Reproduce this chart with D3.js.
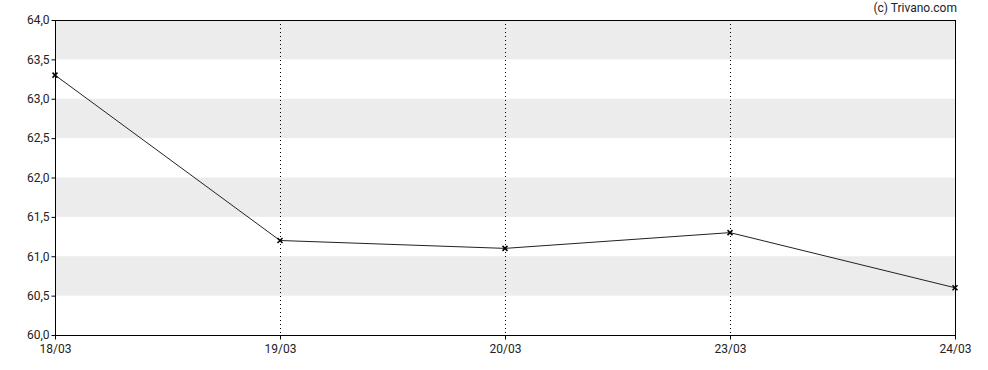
<!DOCTYPE html>
<html>
<head>
<script src="https://d3js.org/d3.v7.min.js"></script>
<style>
  body { margin: 0; background: #fff; }
  svg text { font-family: Roboto, sans-serif; font-size: 12px; fill: #222; }
</style>
</head>
<body>
<svg id="chart" width="988" height="370"></svg>
<script>
// Data
var dates = ["18/03", "19/03", "20/03", "23/03", "24/03"];
var prices = [63.3, 61.2, 61.1, 61.3, 60.6];
var yTicks = [60.0, 60.5, 61.0, 61.5, 62.0, 62.5, 63.0, 63.5, 64.0];

var margin = { top: 20, right: 33, bottom: 35, left: 55 };
var width = 988, height = 370;
var svg = d3.select("#chart");

var x = d3.scalePoint().domain(dates).range([margin.left, width - margin.right]);
var y = d3.scaleLinear().domain([60, 64]).range([height - margin.bottom, margin.top]);

var fmt = function (d) { return d3.format(".1f")(d).replace(".", ","); };

// grey bands
var bands = [];
for (var i = 0; i < yTicks.length - 1; i++) {
  if (i % 2 === 1) bands.push([yTicks[i], yTicks[i + 1]]);
}
svg.append("g").selectAll("rect")
  .data(bands)
  .enter().append("rect")
  .attr("x", margin.left)
  .attr("width", width - margin.right - margin.left)
  .attr("y", function (d) { return y(d[1]); })
  .attr("height", function (d) { return y(d[0]) - y(d[1]); })
  .attr("fill", "#ececec");

// dotted vertical grid lines
svg.append("g").selectAll("line")
  .data(dates.slice(1, -1))
  .enter().append("line")
  .attr("x1", function (d) { return x(d) + 0.5; })
  .attr("x2", function (d) { return x(d) + 0.5; })
  .attr("y1", margin.top)
  .attr("y2", height - margin.bottom)
  .attr("stroke", "#000")
  .attr("stroke-dasharray", "1,3");

// frame
svg.append("rect")
  .attr("x", margin.left + 0.5)
  .attr("y", margin.top + 0.5)
  .attr("width", width - margin.right - margin.left)
  .attr("height", height - margin.bottom - margin.top)
  .attr("fill", "none")
  .attr("stroke", "#000");

// axes
var yAxis = svg.append("g")
  .attr("transform", "translate(" + (margin.left + 0.5) + ",0)")
  .call(d3.axisLeft(y).tickValues(yTicks).tickFormat(fmt).tickSize(4).tickPadding(2));
var xAxis = svg.append("g")
  .attr("transform", "translate(0," + (height - margin.bottom + 0.5) + ")")
  .call(d3.axisBottom(x).tickSize(4).tickPadding(5));
[yAxis, xAxis].forEach(function (a) {
  a.select(".domain").remove();
  a.selectAll("line").attr("stroke", "#000");
  a.selectAll("text").attr("font-family", null).attr("font-size", null).attr("fill", null);
});

// line
var line = d3.line()
  .x(function (d, i) { return x(dates[i]); })
  .y(function (d) { return y(d); });
svg.append("path")
  .datum(prices)
  .attr("d", line)
  .attr("fill", "none")
  .attr("stroke", "#222")
  .attr("stroke-width", 1);

// x markers
svg.append("g").selectAll("path")
  .data(prices)
  .enter().append("path")
  .attr("transform", function (d, i) { return "translate(" + x(dates[i]) + "," + y(d) + ")"; })
  .attr("d", "M-2.5,-2.5L2.5,2.5M-2.5,2.5L2.5,-2.5")
  .attr("stroke", "#000")
  .attr("stroke-width", 1.5);

// copyright
svg.append("text")
  .attr("x", width - 31)
  .attr("y", 12)
  .attr("text-anchor", "end")
  .text("(c) Trivano.com");
</script>
</body>
</html>
